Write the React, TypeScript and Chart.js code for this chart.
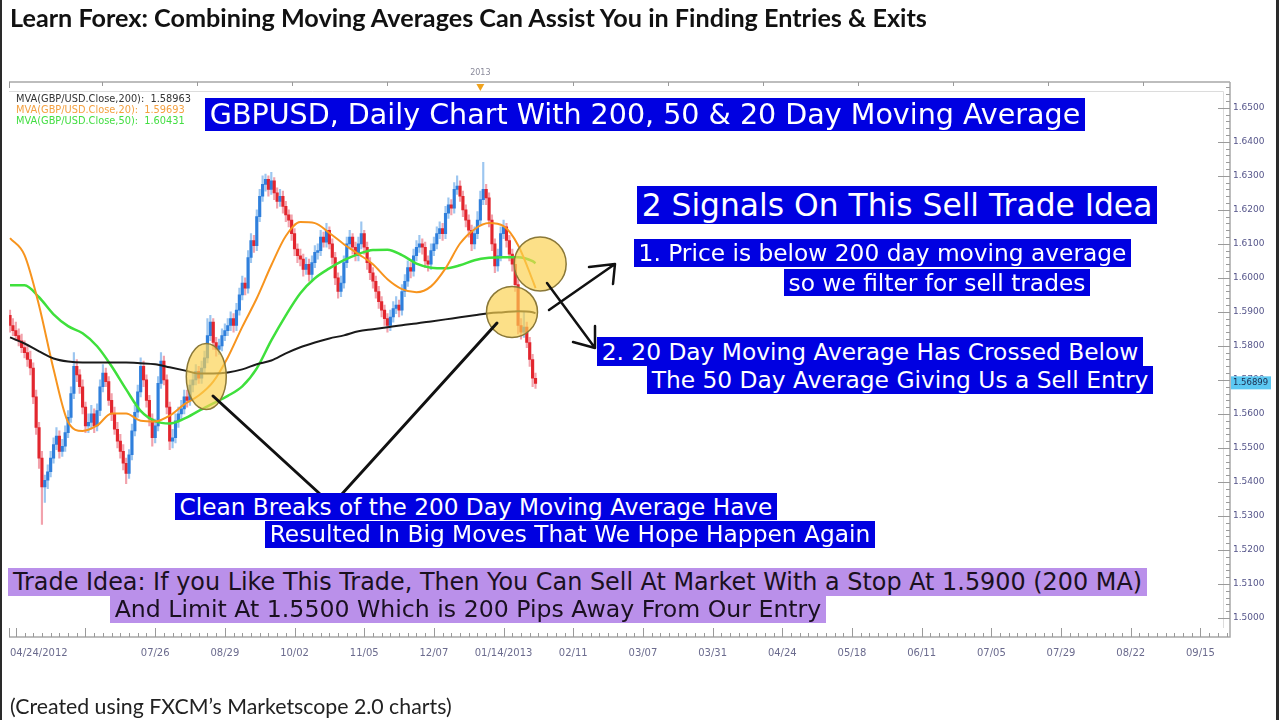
import React, { useEffect, useRef, useMemo } from 'react';
import { Chart, registerables } from 'chart.js';

Chart.register(...registerables);

// ---------------- DATA ----------------
const opens = [
  1.5890, 1.5860, 1.5845, 1.5830, 1.5815, 1.5795, 1.5780, 1.5760, 1.5735, 1.5650,
  1.5560, 1.5470, 1.5385, 1.5405, 1.5430, 1.5470, 1.5510, 1.5535, 1.5490, 1.5505,
  1.5545, 1.5590, 1.5660, 1.5740, 1.5715, 1.5680, 1.5620, 1.5565, 1.5575, 1.5600,
  1.5565, 1.5610, 1.5680, 1.5720, 1.5695, 1.5640, 1.5600, 1.5555, 1.5520, 1.5490,
  1.5455, 1.5425, 1.5480, 1.5550, 1.5605, 1.5665, 1.5740, 1.5700, 1.5640, 1.5585,
  1.5530, 1.5565, 1.5690, 1.5755, 1.5700, 1.5620, 1.5520, 1.5530, 1.5580, 1.5600,
  1.5615, 1.5650, 1.5640, 1.5685, 1.5700, 1.5725, 1.5705, 1.5735, 1.5765, 1.5830,
  1.5870, 1.5810, 1.5790, 1.5800, 1.5830, 1.5845, 1.5860, 1.5880, 1.5860, 1.5905,
  1.5950, 1.5985, 1.5970, 1.6060, 1.6110, 1.6095, 1.6180, 1.6240, 1.6275, 1.6290,
  1.6260, 1.6285, 1.6250, 1.6225, 1.6240, 1.6210, 1.6185, 1.6170, 1.6130, 1.6085,
  1.6065, 1.6055, 1.6025, 1.6040, 1.6010, 1.6045, 1.6075, 1.6080, 1.6120, 1.6105,
  1.6140, 1.6100, 1.6060, 1.6000, 1.5960, 1.5985, 1.6045, 1.6100, 1.6120, 1.6090,
  1.6065, 1.6100, 1.6130, 1.6090, 1.6045, 1.6015, 1.5990, 1.5960, 1.5930, 1.5905,
  1.5880, 1.5860, 1.5885, 1.5910, 1.5920, 1.5905, 1.5960, 1.5990, 1.6030, 1.6020,
  1.6065, 1.6090, 1.6100, 1.6090, 1.6050, 1.6040, 1.6080, 1.6100, 1.6130, 1.6145,
  1.6130, 1.6190, 1.6215, 1.6205, 1.6260, 1.6270, 1.6240, 1.6200, 1.6170, 1.6140,
  1.6100, 1.6130, 1.6170, 1.6230, 1.6260, 1.6235, 1.6170, 1.6100, 1.6035, 1.6065,
  1.6130, 1.6150, 1.6110, 1.6070, 1.6040, 1.5980, 1.5860, 1.5840, 1.5855, 1.5810,
  1.5760, 1.5705,
];
const closes = [
  1.5860, 1.5845, 1.5830, 1.5815, 1.5795, 1.5780, 1.5760, 1.5735, 1.5650, 1.5560,
  1.5470, 1.5385, 1.5405, 1.5430, 1.5470, 1.5510, 1.5535, 1.5490, 1.5505, 1.5545,
  1.5590, 1.5660, 1.5740, 1.5715, 1.5680, 1.5620, 1.5565, 1.5575, 1.5600, 1.5565,
  1.5610, 1.5680, 1.5720, 1.5695, 1.5640, 1.5600, 1.5555, 1.5520, 1.5490, 1.5455,
  1.5425, 1.5480, 1.5550, 1.5605, 1.5665, 1.5740, 1.5700, 1.5640, 1.5585, 1.5530,
  1.5565, 1.5690, 1.5755, 1.5700, 1.5620, 1.5520, 1.5530, 1.5580, 1.5600, 1.5615,
  1.5650, 1.5640, 1.5685, 1.5700, 1.5725, 1.5705, 1.5735, 1.5765, 1.5830, 1.5870,
  1.5810, 1.5790, 1.5800, 1.5830, 1.5845, 1.5860, 1.5880, 1.5860, 1.5905, 1.5950,
  1.5985, 1.5970, 1.6060, 1.6110, 1.6095, 1.6180, 1.6240, 1.6275, 1.6290, 1.6260,
  1.6285, 1.6250, 1.6225, 1.6240, 1.6210, 1.6185, 1.6170, 1.6130, 1.6085, 1.6065,
  1.6055, 1.6025, 1.6040, 1.6010, 1.6045, 1.6075, 1.6080, 1.6120, 1.6105, 1.6140,
  1.6100, 1.6060, 1.6000, 1.5960, 1.5985, 1.6045, 1.6100, 1.6120, 1.6090, 1.6065,
  1.6100, 1.6130, 1.6090, 1.6045, 1.6015, 1.5990, 1.5960, 1.5930, 1.5905, 1.5880,
  1.5860, 1.5885, 1.5910, 1.5920, 1.5905, 1.5960, 1.5990, 1.6030, 1.6020, 1.6065,
  1.6090, 1.6100, 1.6090, 1.6050, 1.6040, 1.6080, 1.6100, 1.6130, 1.6145, 1.6130,
  1.6190, 1.6215, 1.6205, 1.6260, 1.6270, 1.6240, 1.6200, 1.6170, 1.6140, 1.6100,
  1.6130, 1.6170, 1.6230, 1.6260, 1.6235, 1.6170, 1.6100, 1.6035, 1.6065, 1.6130,
  1.6150, 1.6110, 1.6070, 1.6040, 1.5980, 1.5860, 1.5840, 1.5855, 1.5810, 1.5760,
  1.5705, 1.5690,
];
const highs = [
  1.5905, 1.5880, 1.5870, 1.5850, 1.5835, 1.5815, 1.5800, 1.5785, 1.5750, 1.5670,
  1.5575, 1.5490, 1.5420, 1.5450, 1.5490, 1.5530, 1.5560, 1.5550, 1.5525, 1.5565,
  1.5610, 1.5680, 1.5780, 1.5760, 1.5730, 1.5700, 1.5635, 1.5600, 1.5625, 1.5615,
  1.5630, 1.5700, 1.5745, 1.5735, 1.5710, 1.5660, 1.5620, 1.5575, 1.5540, 1.5510,
  1.5470, 1.5495, 1.5570, 1.5625, 1.5685, 1.5765, 1.5755, 1.5715, 1.5655, 1.5600,
  1.5585, 1.5710, 1.5780, 1.5770, 1.5715, 1.5635, 1.5555, 1.5600, 1.5620, 1.5640,
  1.5670, 1.5670, 1.5700, 1.5720, 1.5745, 1.5740, 1.5755, 1.5785, 1.5880, 1.5890,
  1.5880, 1.5825, 1.5820, 1.5850, 1.5865, 1.5880, 1.5900, 1.5895, 1.5925, 1.5970,
  1.6005, 1.6000, 1.6080, 1.6130, 1.6125, 1.6200, 1.6260, 1.6300, 1.6305, 1.6300,
  1.6310, 1.6295, 1.6265, 1.6260, 1.6255, 1.6225, 1.6200, 1.6185, 1.6145, 1.6100,
  1.6085, 1.6070, 1.6060, 1.6055, 1.6065, 1.6095, 1.6100, 1.6140, 1.6135, 1.6160,
  1.6150, 1.6115, 1.6075, 1.6015, 1.6005, 1.6065, 1.6120, 1.6140, 1.6130, 1.6105,
  1.6120, 1.6165, 1.6140, 1.6105, 1.6060, 1.6030, 1.6005, 1.5975, 1.5945, 1.5920,
  1.5895, 1.5905, 1.5930, 1.5945, 1.5935, 1.5980, 1.6010, 1.6050, 1.6045, 1.6085,
  1.6110, 1.6125, 1.6115, 1.6105, 1.6065, 1.6100, 1.6120, 1.6150, 1.6165, 1.6160,
  1.6210, 1.6235, 1.6230, 1.6280, 1.6300, 1.6285, 1.6255, 1.6215, 1.6185, 1.6155,
  1.6150, 1.6195, 1.6255, 1.6340, 1.6275, 1.6250, 1.6185, 1.6115, 1.6085, 1.6150,
  1.6170, 1.6160, 1.6125, 1.6085, 1.6055, 1.5995, 1.5880, 1.5900, 1.5870, 1.5825,
  1.5775, 1.5720,
];
const lows = [
  1.5840, 1.5830, 1.5815, 1.5800, 1.5780, 1.5765, 1.5740, 1.5715, 1.5630, 1.5540,
  1.5440, 1.5275, 1.5340, 1.5380, 1.5415, 1.5455, 1.5495, 1.5470, 1.5475, 1.5490,
  1.5530, 1.5575, 1.5645, 1.5695, 1.5660, 1.5600, 1.5545, 1.5545, 1.5555, 1.5545,
  1.5550, 1.5595, 1.5665, 1.5680, 1.5625, 1.5580, 1.5540, 1.5500, 1.5470, 1.5435,
  1.5395, 1.5410, 1.5465, 1.5535, 1.5590, 1.5650, 1.5680, 1.5620, 1.5565, 1.5505,
  1.5515, 1.5550, 1.5675, 1.5685, 1.5600, 1.5495, 1.5500, 1.5515, 1.5560, 1.5585,
  1.5600, 1.5620, 1.5625, 1.5665, 1.5685, 1.5690, 1.5690, 1.5720, 1.5750, 1.5815,
  1.5790, 1.5770, 1.5775, 1.5785, 1.5815, 1.5830, 1.5845, 1.5840, 1.5845, 1.5890,
  1.5935, 1.5950, 1.5955, 1.6045, 1.6075, 1.6080, 1.6165, 1.6225, 1.6255, 1.6240,
  1.6245, 1.6230, 1.6205, 1.6210, 1.6190, 1.6165, 1.6150, 1.6110, 1.6065, 1.6045,
  1.6035, 1.6005, 1.6010, 1.5990, 1.5995, 1.6030, 1.6055, 1.6065, 1.6090, 1.6090,
  1.6085, 1.6040, 1.5980, 1.5940, 1.5945, 1.5970, 1.6030, 1.6085, 1.6070, 1.6050,
  1.6050, 1.6085, 1.6070, 1.6025, 1.5995, 1.5970, 1.5940, 1.5910, 1.5885, 1.5860,
  1.5840, 1.5845, 1.5870, 1.5895, 1.5885, 1.5890, 1.5945, 1.5975, 1.6000, 1.6005,
  1.6050, 1.6075, 1.6070, 1.6030, 1.6020, 1.6025, 1.6065, 1.6085, 1.6115, 1.6110,
  1.6115, 1.6175, 1.6185, 1.6190, 1.6245, 1.6225, 1.6180, 1.6150, 1.6120, 1.6080,
  1.6085, 1.6115, 1.6155, 1.6215, 1.6215, 1.6150, 1.6080, 1.6015, 1.6020, 1.6050,
  1.6115, 1.6090, 1.6050, 1.6020, 1.5960, 1.5835, 1.5820, 1.5825, 1.5795, 1.5740,
  1.5680, 1.5675,
];

// moving averages at these bar indices
const maIdx = [
  0, 5, 10, 15, 20, 25, 30, 35, 40, 45, 50, 55, 60, 65, 70, 75, 80, 85, 90,
  95, 100, 105, 110, 115, 120, 125, 130, 135, 140, 145, 150, 155, 160, 165, 170, 175, 180, 181,
];
const ma200 = [
  1.5825, 1.5807, 1.5784, 1.5763, 1.5754, 1.5751, 1.5751, 1.5751, 1.5751, 1.5749,
  1.5746, 1.5737, 1.5728, 1.5719, 1.5719, 1.5722, 1.5731, 1.5746, 1.5757, 1.5778,
  1.5796, 1.5810, 1.5822, 1.5831, 1.5843, 1.5849, 1.5855, 1.5861, 1.5866, 1.5872,
  1.5878, 1.5884, 1.5890, 1.5896, 1.5899, 1.5902, 1.5899, 1.5896,
];
const ma20 = [
  1.6117, 1.6067, 1.5919, 1.5731, 1.5576, 1.5550, 1.5566, 1.5601, 1.5601, 1.5580,
  1.5578, 1.5595, 1.5628, 1.5654, 1.5695, 1.5766, 1.5856, 1.5940, 1.6037, 1.6123,
  1.6164, 1.6161, 1.6132, 1.6099, 1.6070, 1.6040, 1.5996, 1.5967, 1.5958, 1.5975,
  1.6028, 1.6101, 1.6143, 1.6161, 1.6152, 1.6096, 1.5993, 1.5970,
];
const ma50 = [
  1.5978, 1.5978, 1.5943, 1.5893, 1.5858, 1.5837, 1.5799, 1.5740, 1.5672, 1.5609,
  1.5579, 1.5572, 1.5586, 1.5609, 1.5631, 1.5653, 1.5681, 1.5734, 1.5816, 1.5890,
  1.5955, 1.5999, 1.6028, 1.6052, 1.6070, 1.6082, 1.6083, 1.6067, 1.6042, 1.6030,
  1.6028, 1.6037, 1.6052, 1.6059, 1.6061, 1.6061, 1.6049, 1.6043,
];

const legendLabels = [
  'MVA(GBP/USD.Close,200):  1.58963',
  'MVA(GBP/USD.Close,20):  1.59693',
  'MVA(GBP/USD.Close,50):  1.60431',
];
const lastPrice = 1.56899;

// axis ticks
const xTickIdx = [0, 50, 74, 98, 122, 146, 170, 194, 218, 242, 266, 290, 314, 338, 362, 386, 410, 420];
const xTickLabels = [
  '04/24/2012', '07/26', '08/29', '10/02', '11/05', '12/07', '01/14/2013', '02/11', '03/07',
  '03/31', '04/24', '05/18', '06/11', '07/05', '07/29', '08/22', '09/15', '',
];
const yTickVals = [
  1.50, 1.51, 1.52, 1.53, 1.54, 1.55, 1.56, 1.57, 1.58, 1.59, 1.60, 1.61, 1.62, 1.63, 1.64, 1.65,
];
const topTickIdx = [31.7, 64.5, 97.2, 129.9, 193.9, 226.5, 259.3, 292, 324.8, 357.5, 390.2];
const yearMarkIdx = 162;
const yearMarkLabel = '2013';

// ---------------- STYLE / LAYOUT ----------------
const X_MIN = -0.3;
const X_MAX = 420.2;
const Y_MIN = 1.49441;
const Y_MAX = 1.65759;

const UP = '#2f7fdc';
const DOWN = '#e2262e';
const UP_WICK = '#9cc6f0';
const DOWN_WICK = '#f2a2ac';
const BLUE = '#0000e1';
const PURPLE = '#ba90ea';

type Box = { text: string; x: number; y: number; w: number; h: number; bg: string; fg: string };
const boxes: Box[] = [
  { text: 'GBPUSD, Daily Chart With 200, 50 & 20 Day Moving Average', x: 205, y: 98, w: 880, h: 33, bg: BLUE, fg: '#ffffff' },
  { text: '2 Signals On This Sell Trade Idea', x: 637, y: 186, w: 520, h: 38, bg: BLUE, fg: '#ffffff' },
  { text: '1. Price is below 200 day moving average', x: 634, y: 239, w: 497, h: 28, bg: BLUE, fg: '#ffffff' },
  { text: 'so we filter for sell trades', x: 784, y: 269, w: 306, h: 27, bg: BLUE, fg: '#ffffff' },
  { text: '2. 20 Day Moving Average Has Crossed Below', x: 597, y: 337, w: 546, h: 29, bg: BLUE, fg: '#ffffff' },
  { text: 'The 50 Day Average Giving Us a Sell Entry', x: 647, y: 366, w: 506, h: 28, bg: BLUE, fg: '#ffffff' },
  { text: 'Clean Breaks of the 200 Day Moving Average Have', x: 175, y: 493, w: 602, h: 27, bg: BLUE, fg: '#ffffff' },
  { text: 'Resulted In Big Moves That We Hope Happen Again', x: 265, y: 521, w: 610, h: 27, bg: BLUE, fg: '#ffffff' },
  { text: 'Trade Idea: If you Like This Trade, Then You Can Sell At Market With a Stop At 1.5900 (200 MA)', x: 8, y: 568, w: 1139, h: 28, bg: PURPLE, fg: '#1a1020' },
  { text: 'And Limit At 1.5500 Which is 200 Pips Away From Our Entry', x: 110, y: 596, w: 716, h: 27, bg: PURPLE, fg: '#1a1020' },
];

const TITLE = 'Learn Forex: Combining Moving Averages Can Assist You in Finding Entries & Exits';
const FOOTER = '(Created using FXCM\u2019s Marketscope 2.0 charts)';

// circles anchored in data space: bar index, price, radii in px
const circles = [
  { i: 67.6, p: 1.5710, rx: 20, ry: 33 },
  { i: 182.6, p: 1.6041, rx: 26, ry: 27 },
  { i: 172.9, p: 1.5900, rx: 25.5, ry: 25.5 },
];

function fitFont(text: string, family: string, weight: string, target: number): number {
  const ctx = document.createElement('canvas').getContext('2d');
  if (!ctx) return 20;
  ctx.font = `${weight} 100px ${family}`;
  const w = ctx.measureText(text).width;
  return w > 0 ? (100 * target) / w : 20;
}

const overlayPlugin = {
  id: 'fxOverlay',
  beforeDatasetsDraw(chart: any) {
    const ctx: CanvasRenderingContext2D = chart.ctx;
    const xs = chart.scales.x;
    const ys = chart.scales.y;
    const L = 9, R = 1230, T = 82, B = 637;
    ctx.save();
    ctx.strokeStyle = '#bdbdbd';
    ctx.lineWidth = 2;
    ctx.beginPath();
    ctx.moveTo(L, T); ctx.lineTo(R, T);
    ctx.stroke();
    ctx.lineWidth = 1.5;
    ctx.strokeStyle = '#a8a8a8';
    ctx.beginPath();
    ctx.moveTo(R, T); ctx.lineTo(R, B); ctx.lineTo(L, B);
    ctx.stroke();
    ctx.strokeStyle = '#dcdcdc';
    ctx.lineWidth = 1;
    ctx.beginPath();
    ctx.moveTo(L, 91.5); ctx.lineTo(1223.5, 91.5); ctx.lineTo(1223.5, 628);
    ctx.stroke();
    ctx.strokeStyle = '#9a9a9a';
    ctx.beginPath();
    ctx.moveTo(L + 0.5, T); ctx.lineTo(L + 0.5, T + 6);
    for (const t of topTickIdx) {
      const px = Math.round(xs.getPixelForValue(t)) + 0.5;
      ctx.moveTo(px, T); ctx.lineTo(px, T + 4);
    }
    ctx.stroke();
    const ym = xs.getPixelForValue(yearMarkIdx);
    ctx.fillStyle = '#f0a21c';
    ctx.beginPath();
    ctx.moveTo(ym - 4, T + 2); ctx.lineTo(ym + 4, T + 2); ctx.lineTo(ym, T + 9);
    ctx.closePath();
    ctx.fill();
    ctx.fillStyle = '#8a8a9a';
    ctx.font = '8px "DejaVu Sans"';
    ctx.textAlign = 'center';
    ctx.textBaseline = 'middle';
    ctx.fillText(yearMarkLabel, ym, 73);
    ctx.strokeStyle = '#9a9a9a';
    ctx.lineWidth = 1;
    ctx.beginPath();
    ctx.moveTo(L + 0.5, B); ctx.lineTo(L + 0.5, B - 9);
    for (let k = 2; k <= 419; k += 3) {
      const px = Math.round(xs.getPixelForValue(k)) + 0.5;
      const major = (k - 2) % 24 === 0;
      ctx.moveTo(px, B); ctx.lineTo(px, B - (major ? 9 : 4));
    }
    ctx.stroke();
    ctx.beginPath();
    for (let k = 0; k <= 80; k++) {
      const v = 1.5 + k * 0.002;
      if (v > Y_MAX) break;
      const py = Math.round(ys.getPixelForValue(v)) + 0.5;
      const major = k % 5 === 0;
      ctx.moveTo(R, py); ctx.lineTo(R - (major ? 12 : 4), py);
    }
    ctx.stroke();
    ctx.restore();
  },
  afterDatasetsDraw(chart: any) {
    const ctx: CanvasRenderingContext2D = chart.ctx;
    const xs = chart.scales.x;
    const ys = chart.scales.y;
    ctx.save();
    ctx.font = '9.8px "DejaVu Sans"';
    ctx.textAlign = 'left';
    ctx.textBaseline = 'middle';
    const legendColors = ['#333333', '#f4a040', '#42de42'];
    legendLabels.forEach((t, k) => {
      ctx.fillStyle = legendColors[k];
      ctx.fillText(t, 16, 99 + k * 11.3);
    });
    for (const c of circles) {
      const cx = xs.getPixelForValue(c.i);
      const cy = ys.getPixelForValue(c.p);
      ctx.beginPath();
      ctx.ellipse(cx, cy, c.rx, c.ry, 0, 0, Math.PI * 2);
      ctx.fillStyle = 'rgba(250, 210, 80, 0.68)';
      ctx.fill();
      ctx.lineWidth = 1.5;
      ctx.strokeStyle = '#8a7838';
      ctx.stroke();
    }
    ctx.strokeStyle = '#111111';
    ctx.lineCap = 'round';
    ctx.lineWidth = 3;
    ctx.beginPath();
    ctx.moveTo(213, 396); ctx.lineTo(332, 505); ctx.lineTo(497, 323);
    ctx.stroke();
    ctx.lineWidth = 2.5;
    ctx.lineJoin = 'round';
    ctx.beginPath();
    ctx.moveTo(549, 310); ctx.lineTo(615, 264);
    ctx.moveTo(589, 267); ctx.lineTo(615, 264); ctx.lineTo(613, 284);
    ctx.moveTo(547, 283); ctx.lineTo(595, 348);
    ctx.moveTo(573, 342); ctx.lineTo(595, 348); ctx.lineTo(595, 326);
    ctx.stroke();
    ctx.restore();
  },
  afterDraw(chart: any) {
    const ctx: CanvasRenderingContext2D = chart.ctx;
    const ys = chart.scales.y;
    const py = ys.getPixelForValue(lastPrice);
    ctx.save();
    ctx.fillStyle = '#5cc8f2';
    ctx.fillRect(1231, py - 7, 40, 13);
    ctx.fillStyle = '#1c2b4c';
    ctx.font = '8.5px "DejaVu Sans"';
    ctx.textAlign = 'left';
    ctx.textBaseline = 'middle';
    ctx.fillText(lastPrice.toFixed(5), 1233, py - 0.5);
    ctx.fillStyle = '#2a2a2a';
    ctx.fillRect(0, 0, 2, 720);
    ctx.fillRect(1276, 0, 3, 720);
    ctx.restore();
  },
};

export default function App() {
  const canvasRef = useRef<HTMLCanvasElement | null>(null);

  const sizes = useMemo(() => {
    return {
      boxes: boxes.map((b) => fitFont(b.text, '"DejaVu Sans"', 'normal', b.w - 9)),
      title: fitFont(TITLE, 'Lato', 'bold', 920),
      footer: fitFont(FOOTER, 'Lato', 'normal', 442),
    };
  }, []);

  useEffect(() => {
    if (!canvasRef.current) return;
    const n = closes.length;
    const idx = Array.from({ length: n }, (_, i) => i);
    const up = (i: number) => closes[i] >= opens[i];
    const chart = new Chart(canvasRef.current, {
      type: 'bar',
      data: {
        datasets: [
          {
            type: 'bar',
            label: 'wick',
            data: idx.map((i) => ({ x: i, y: [lows[i], highs[i]] })) as any,
            backgroundColor: (c: any) => (up(c.dataIndex) ? UP_WICK : DOWN_WICK),
            barThickness: 1.5,
            grouped: false,
            borderWidth: 0,
            order: 5,
          },
          {
            type: 'bar',
            label: 'body',
            data: idx.map((i) => ({ x: i, y: [opens[i], closes[i]] })) as any,
            backgroundColor: (c: any) => (up(c.dataIndex) ? UP : DOWN),
            barThickness: 2.5,
            grouped: false,
            borderWidth: 0,
            minBarLength: 1,
            order: 4,
          },
          {
            type: 'line',
            label: 'MA50',
            data: maIdx.map((x, k) => ({ x, y: ma50[k] })) as any,
            borderColor: '#3fe03c',
            borderWidth: 2.5,
            pointRadius: 0,
            cubicInterpolationMode: 'monotone',
            order: 3,
          },
          {
            type: 'line',
            label: 'MA20',
            data: maIdx.map((x, k) => ({ x, y: ma20[k] })) as any,
            borderColor: '#f7941e',
            borderWidth: 2,
            pointRadius: 0,
            cubicInterpolationMode: 'monotone',
            order: 2,
          },
          {
            type: 'line',
            label: 'MA200',
            data: maIdx.map((x, k) => ({ x, y: ma200[k] })) as any,
            borderColor: '#1a1a1a',
            borderWidth: 2,
            pointRadius: 0,
            cubicInterpolationMode: 'monotone',
            order: 1,
          },
        ],
      },
      options: {
        animation: false,
        responsive: false,
        maintainAspectRatio: false,
        layout: { padding: { left: 9, top: 82, right: 0, bottom: 0 } },
        plugins: { legend: { display: false }, tooltip: { enabled: false } },
        scales: {
          x: {
            type: 'linear',
            min: X_MIN,
            max: X_MAX,
            offset: false,
            grid: { display: false, drawTicks: false },
            border: { display: false },
            afterBuildTicks: (s: any) => {
              s.ticks = xTickIdx.map((v) => ({ value: v }));
            },
            afterFit: (s: any) => {
              s.height = 83;
            },
            ticks: {
              autoSkip: false,
              maxRotation: 0,
              minRotation: 0,
              align: 'inner',
              padding: 10,
              color: '#6b6b8e',
              font: { family: '"DejaVu Sans"', size: 10 },
              callback: (v: any) => {
                const k = xTickIdx.indexOf(Number(v));
                return k >= 0 ? xTickLabels[k] : '';
              },
            },
          },
          y: {
            type: 'linear',
            position: 'right',
            min: Y_MIN,
            max: Y_MAX,
            grid: { display: false, drawTicks: false },
            border: { display: false },
            afterBuildTicks: (s: any) => {
              s.ticks = yTickVals.map((v) => ({ value: v }));
            },
            afterFit: (s: any) => {
              s.width = 50;
            },
            ticks: {
              padding: 3,
              color: '#55558a',
              font: { family: '"DejaVu Sans"', size: 9 },
              callback: (v: any) => Number(v).toFixed(4),
            },
          },
        },
      } as any,
      plugins: [overlayPlugin],
    });
    return () => chart.destroy();
  }, []);

  return (
    <div
      style={{
        position: 'absolute',
        left: 0,
        top: 0,
        width: 1280,
        height: 720,
        overflow: 'hidden',
        background: '#ffffff',
      }}
    >
      <canvas
        ref={canvasRef}
        width={1280}
        height={720}
        style={{ position: 'absolute', left: 0, top: 0, width: 1280, height: 720 }}
      />
      <div
        style={{
          position: 'absolute',
          left: 10,
          top: 3,
          height: 28,
          lineHeight: '28px',
          whiteSpace: 'nowrap',
          fontFamily: 'Lato',
          fontWeight: 700,
          fontSize: sizes.title,
          color: '#111111',
        }}
      >
        {TITLE}
      </div>
      {boxes.map((b, k) => (
        <div
          key={k}
          style={{
            position: 'absolute',
            left: b.x,
            top: b.y,
            width: b.w,
            height: b.h,
            lineHeight: `${b.h}px`,
            background: b.bg,
            color: b.fg,
            fontFamily: '"DejaVu Sans"',
            fontSize: sizes.boxes[k],
            textAlign: 'center',
            whiteSpace: 'nowrap',
            overflow: 'visible',
          }}
        >
          {b.text}
        </div>
      ))}
      <div
        style={{
          position: 'absolute',
          left: 10,
          top: 694,
          height: 24,
          lineHeight: '24px',
          whiteSpace: 'nowrap',
          fontFamily: 'Lato',
          fontSize: sizes.footer,
          color: '#222222',
        }}
      >
        {FOOTER}
      </div>
    </div>
  );
}
